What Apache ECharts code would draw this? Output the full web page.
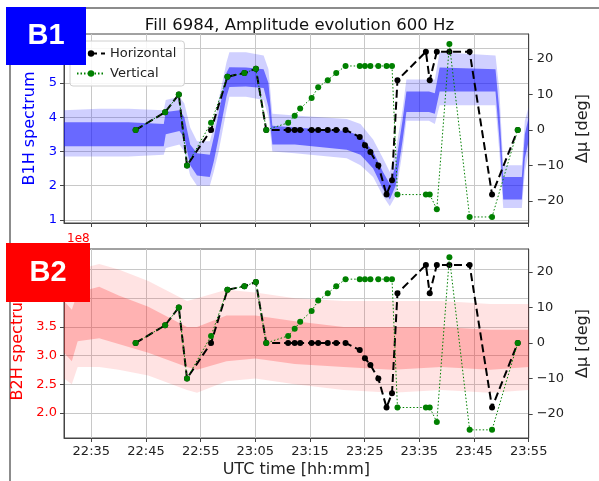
<!DOCTYPE html>
<html><head><meta charset="utf-8">
<script src="https://cdn.jsdelivr.net/npm/echarts@6/dist/echarts.min.js"></script>
<style>html,body{margin:0;padding:0;background:#fff}#c{width:599px;height:481px}</style>
</head><body><div id="c"></div>
<script>
// ---- axis ticks ----
const xStart = '22:30', xEnd = '23:55';
const xTickLabels = ['22:35','22:45','22:55','23:05','23:15','23:25','23:35','23:45','23:55'];
const b1Ticks = [1, 2, 3, 4, 5, 6];
const b2Ticks = [2.0, 2.5, 3.0, 3.5, 4.0, 4.5];
const dmuTicks = [-20, -10, 0, 10, 20];

// ---- phase advance (deg) ----
const dmuTimes = ['22:43:06','22:48:30','22:51:00','22:52:30','22:56:54','22:59:54','23:03:00','23:05:06','23:07:00',
  '23:11:00','23:12:12','23:13:12','23:15:18','23:16:30','23:18:15','23:19:48','23:21:30','23:24:06','23:25:03',
  '23:26:03','23:27:30','23:29:00','23:30:00','23:31:00','23:36:12','23:36:54','23:38:12','23:40:30','23:44:12',
  '23:48:18','23:53:00'];
const horizontal = [0,5,10,-10,0,15,16,17.2,0, 0,0,0,0,0,0,0,0,-2,-4.3, -6.2,-10,-18.2,-14.2,14,22,14,22,22,22, -18.2,0];
const vertical   = [0,5,10,-10,2,15,16,17.2,0, 2,4,6,9,12,14,16,18,18,18, 18,18,18,18,-18.2,-18.2,-18.2,-22.3,24.2,-24.5, -24.5,0];

// ---- B1H spectrum cloud envelope (x1e8) ----
const b1Times = ['22:30:00','22:36:26','22:41:49','22:48:15','22:48:37','22:51:07','22:52:01','22:53:05','22:54:20','22:56:40',
  '22:57:23','22:58:17','22:59:43','23:00:15','23:03:17','23:06:31','23:07:24','23:08:07','23:12:14','23:21:43',
  '23:24:14','23:26:33','23:28:21','23:29:36','23:30:40','23:31:55','23:32:38','23:36:46','23:37:50','23:38:43',
  '23:48:56','23:49:38','23:50:21','23:53:45','23:54:18','23:55:00'];
const b1OuterLow  = [2.85,2.85,2.85,2.9,3.1,3.2,3.0,2.3,2.0,2.0, 2.4,3.0,4.2,4.6,4.6,4.5,4.0,3.0,2.95,2.8, 2.6,2.25,1.7,1.4,1.7,3.0,3.9,3.9,3.8,4.35, 4.35,3.0,1.35,1.35,2.4,3.0];
const b1InnerLow  = [3.15,3.15,3.15,3.15,3.5,3.6,3.4,2.6,2.3,2.25, 2.7,3.4,4.6,4.88,4.9,4.85,4.3,3.2,3.2,3.05, 2.9,2.5,1.9,1.6,2.0,3.3,4.15,4.15,4.1,4.75, 4.75,3.4,1.6,1.6,2.8,3.3];
const b1InnerHigh = [3.85,3.85,3.85,3.8,4.15,4.2,4.0,3.2,2.95,2.9, 3.4,4.1,5.3,5.46,5.45,5.4,5.0,3.75,3.7,3.6, 3.45,3.0,2.4,2.05,2.6,3.9,4.75,4.75,4.7,5.45, 5.4,4.2,2.25,2.25,3.5,4.0];
const b1OuterHigh = [4.2,4.25,4.25,4.2,4.5,4.6,4.4,3.7,3.3,3.3, 3.7,4.5,5.6,5.9,5.9,5.8,5.4,4.1,4.05,3.95, 3.8,3.35,2.8,2.4,3.0,4.2,5.1,5.1,5.1,5.9, 5.8,4.8,2.6,2.6,3.9,4.3];

// ---- B2H spectrum cloud envelope (x1e8) ----
const b2Times = ['22:30:00','22:31:26','22:32:30','22:36:26','22:40:00','22:45:25','22:52:30','22:54:20','22:59:43','23:05:00',
  '23:12:14','23:21:10','23:30:05','23:39:00','23:48:00','23:55:00'];
const b2OuterLow  = [2.6,2.5,2.8,2.8,2.75,2.65,2.4,2.35,2.55,2.6,2.5,2.4,2.35,2.4,2.35,2.4];
const b2InnerLow  = [3.05,2.9,3.25,3.3,3.2,3.05,2.8,2.75,2.9,2.95,2.85,2.8,2.75,2.8,2.75,2.8];
const b2InnerHigh = [3.95,3.8,4.1,4.2,4.05,3.85,3.5,3.5,3.7,3.7,3.6,3.5,3.5,3.5,3.45,3.45];
const b2OuterHigh = [4.3,4.2,4.5,4.6,4.5,4.3,3.95,4.0,4.15,4.1,4.0,3.95,3.95,3.95,3.9,3.9];

// ---- helpers ----
const toMin = s => { const p = s.split(':').map(Number); return p[0]*60 + p[1] + (p[2]||0)/60; };
const fmtClock = m => { const h = Math.floor(m/60), mm = Math.round(m - h*60); return String(h).padStart(2,'0') + ':' + String(mm).padStart(2,'0'); };
const xTickVals = xTickLabels.map(toMin);
const FONT = 'DejaVu Sans';
const minus = v => String(v).replace('-', '\u2212');

function band(times, lo, hi, xi, yi, color) {
  const data = times.map((t,i) => [toMin(t), lo[i], hi[i]]);
  return { type:'custom', coordinateSystem:'cartesian2d', xAxisIndex:xi, yAxisIndex:yi, silent:true, z:1, clip:true,
    animation:false, encode:{ x:0, y:[1,2] }, data,
    renderItem(params, api) {
      if (params.dataIndex !== 0) return;
      const pts = [];
      for (let i = 0; i < data.length; i++) pts.push(api.coord([data[i][0], data[i][2]]));
      for (let i = data.length - 1; i >= 0; i--) pts.push(api.coord([data[i][0], data[i][1]]));
      return { type:'polygon', shape:{ points:pts }, style:{ fill:color } };
    } };
}
function dmuSeries(xi, yi) {
  return [
    { type:'line', name:'Horizontal', xAxisIndex:xi, yAxisIndex:yi, symbol:'circle', symbolSize:6, z:5, animation:false,
      itemStyle:{ color:'#000' }, lineStyle:{ color:'#000', width:2, type:[8,4] },
      data: dmuTimes.map((t,i) => [toMin(t), horizontal[i]]) },
    { type:'line', name:'Vertical', xAxisIndex:xi, yAxisIndex:yi, symbol:'circle', symbolSize:6, z:6, animation:false,
      itemStyle:{ color:'#008000' }, lineStyle:{ color:'#008000', width:1, type:[1.5,2] },
      data: dmuTimes.map((t,i) => [toMin(t), vertical[i]]) }
  ];
}

const axisLineStyle = { show:true, onZero:false, lineStyle:{ color:'#444', width:1 } };
function xAxis(gi, showLabels) {
  return { type:'value', gridIndex:gi, min:toMin(xStart), max:toMin(xEnd),
    axisLine:axisLineStyle,
    axisTick:{ show:true, length:4, customValues:xTickVals, lineStyle:{ color:'#444' } },
    axisLabel:{ show:showLabels, customValues:xTickVals, formatter:fmtClock, fontFamily:FONT, fontSize:13, color:'#222', margin:7 },
    splitLine:{ show:true, lineStyle:{ color:'#c8c8c8', width:1 } },
    name: showLabels ? 'UTC time [hh:mm]' : '', nameLocation:'middle', nameGap:24,
    nameTextStyle:{ fontFamily:FONT, fontSize:16, color:'#222' } };
}
function leftAxis(gi, min, max, ticks, color, name, gap, fmt) {
  return { type:'value', gridIndex:gi, position:'left', min, max,
    axisLine:axisLineStyle,
    axisTick:{ show:true, length:4, customValues:ticks, lineStyle:{ color:'#444' } },
    axisLabel:{ customValues:ticks, formatter:fmt, fontFamily:FONT, fontSize:13, color:color, margin:7 },
    splitLine:{ show:true, lineStyle:{ color:'#c8c8c8', width:1 } },
    name, nameLocation:'middle', nameGap:gap, nameRotate:90,
    nameTextStyle:{ fontFamily:FONT, fontSize:16, color:color } };
}
function rightAxis(gi, min, max) {
  return { type:'value', gridIndex:gi, position:'right', min, max,
    axisLine:axisLineStyle,
    axisTick:{ show:true, length:4, customValues:dmuTicks, lineStyle:{ color:'#444' } },
    axisLabel:{ customValues:dmuTicks, formatter:minus, fontFamily:FONT, fontSize:13, color:'#222', margin:8 },
    splitLine:{ show:false },
    name:'\u0394\u03bc [deg]', nameLocation:'middle', nameGap:37, nameRotate:90,
    nameTextStyle:{ fontFamily:FONT, fontSize:16, color:'#222' } };
}

const chart = echarts.init(document.getElementById('c'), null, { renderer:'canvas' });
chart.setOption({
  animation:false,
  backgroundColor:'#fff',
  title:{ text:'Fill 6984, Amplitude evolution 600 Hz', left:'center', top:12,
    textStyle:{ fontFamily:FONT, fontSize:16.5, fontWeight:'normal', color:'#111' } },
  legend:{ data:['Horizontal','Vertical'], orient:'vertical', left:70, top:41, itemWidth:28, itemHeight:8, itemGap:7,
    padding:[6,8,6,6], backgroundColor:'rgba(255,255,255,0.85)', borderColor:'#d0d0d0', borderWidth:1, borderRadius:3,
    textStyle:{ fontFamily:FONT, fontSize:13, color:'#222' } },
  grid:[
    { left:64, right:61, top:34, height:189, show:true, borderColor:'#444', borderWidth:1, backgroundColor:'transparent' },
    { left:64, right:61, top:249, height:189, show:true, borderColor:'#444', borderWidth:1, backgroundColor:'transparent' }
  ],
  xAxis:[ xAxis(0,false), xAxis(1,true) ],
  yAxis:[
    leftAxis(0, 0.91, 6.43, b1Ticks, '#0000ff', 'B1H spectrum', 19, v => String(v)),
    rightAxis(0, -26.2, 27.0),
    leftAxis(1, 1.56, 4.86, b2Ticks, '#ff0000', 'B2H spectrum', 31, v => v.toFixed(1)),
    rightAxis(1, -26.8, 26.5)
  ],
  series:[
    band(b1Times, b1OuterLow, b1OuterHigh, 0, 0, 'rgba(40,40,255,0.22)'),
    band(b1Times, b1InnerLow, b1InnerHigh, 0, 0, 'rgba(20,20,255,0.55)'),
    ...dmuSeries(0, 1),
    band(b2Times, b2OuterLow, b2OuterHigh, 1, 2, 'rgba(255,40,40,0.13)'),
    band(b2Times, b2InnerLow, b2InnerHigh, 1, 2, 'rgba(255,30,30,0.25)'),
    ...dmuSeries(1, 3)
  ],
  graphic:[
    { type:'rect', z:0, shape:{ x:10, y:8, width:700, height:600 }, style:{ fill:'none', stroke:'#8c8c8c', lineWidth:2 } },
    { type:'text', z:50, left:64, top:19, style:{ text:'1e8', fill:'#0000ff', font:'12px "DejaVu Sans"' } },
    { type:'text', z:50, left:67, top:233, style:{ text:'1e8', fill:'#ff0000', font:'12px "DejaVu Sans"' } },
    { type:'rect', z:100, shape:{ x:6, y:7, width:80, height:58 }, style:{ fill:'#0000ff' } },
    { type:'text', z:101, x:46, y:36, style:{ text:'B1', fill:'#fff', font:'bold 29px "Liberation Sans"', textAlign:'center', textVerticalAlign:'middle' } },
    { type:'rect', z:100, shape:{ x:6, y:243, width:84, height:59 }, style:{ fill:'#ff0000' } },
    { type:'text', z:101, x:48, y:273, style:{ text:'B2', fill:'#fff', font:'bold 29px "Liberation Sans"', textAlign:'center', textVerticalAlign:'middle' } }
  ]
});
</script></body></html>
